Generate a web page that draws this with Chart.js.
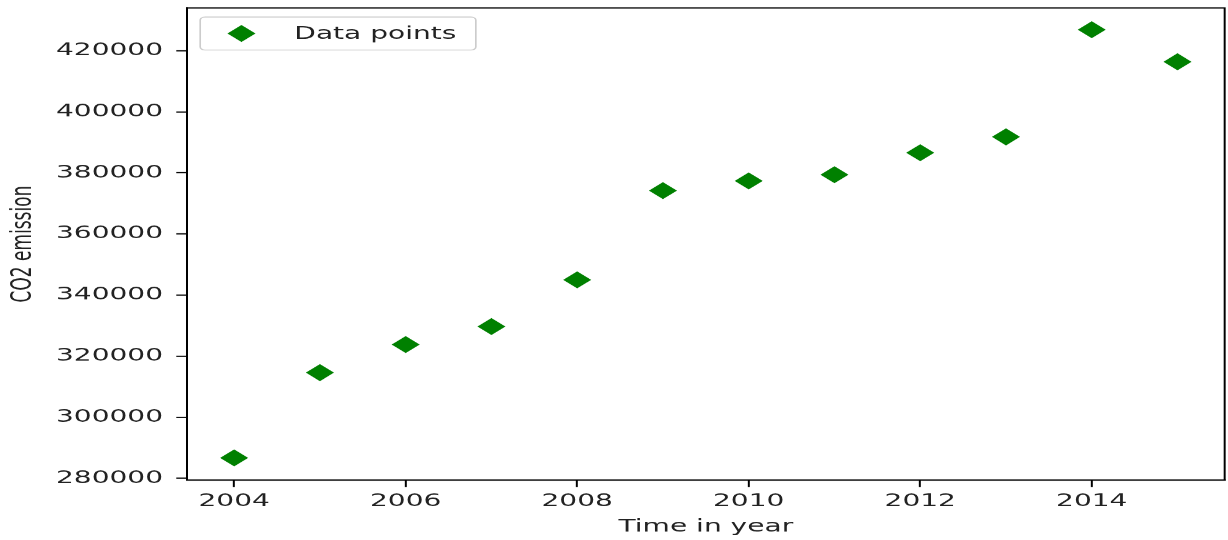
<!DOCTYPE html>
<html>
<head>
<meta charset="utf-8">
<script src="https://cdn.jsdelivr.net/npm/chart.js@4"></script>
<style>
  html, body { margin: 0; padding: 0; background: #fff; overflow: hidden; }
  /* the reference is a horizontally stretched figure: draw narrow, then stretch */
  #wrap { width: 744px; height: 540px; transform: scaleX(1.6505); transform-origin: 0 0; }
</style>
</head>
<body>
<div id="wrap"><canvas id="chart"></canvas></div>
<script>
// Données
const years = [2004, 2005, 2006, 2007, 2008, 2009, 2010, 2011, 2012, 2013, 2014, 2015];
const emissions = [286700, 314600, 323800, 329700, 345000, 374200, 377400, 379400, 386600, 391800, 426900, 416400];
const xTicks = [2004, 2006, 2008, 2010, 2012, 2014];
const yTicks = [280000, 300000, 320000, 340000, 360000, 380000, 400000, 420000];
const seriesLabel = 'Data points';

const FONT = 'DejaVu Sans';
const TEXT = '#222';
const GREEN = '#008000';

// Cadre noir autour de la zone de tracé
const framePlugin = {
    id: 'frame',
    afterDraw(chart) {
        const a = chart.chartArea;
        const ctx = chart.ctx;
        ctx.save();
        ctx.strokeStyle = '#000';
        ctx.lineWidth = 1.2;
        ctx.strokeRect(a.left, a.top, a.right - a.left, a.bottom - a.top);
        ctx.restore();
    }
};

// Légende dans le coin haut gauche, style matplotlib
const legendPlugin = {
    id: 'innerLegend',
    afterDraw(chart) {
        const a = chart.chartArea;
        const ctx = chart.ctx;
        const x = a.left + 8, y = a.top + 9, w = 167, h = 33;
        ctx.save();
        ctx.beginPath();
        ctx.roundRect(x, y, w, h, 3);
        ctx.fillStyle = 'rgba(255,255,255,0.8)';
        ctx.fill();
        ctx.strokeStyle = '#cccccc';
        ctx.lineWidth = 1;
        ctx.stroke();

        const cx = x + 25, cy = y + h / 2, r = 8.5;
        ctx.beginPath();
        ctx.moveTo(cx - r, cy);
        ctx.lineTo(cx, cy - r);
        ctx.lineTo(cx + r, cy);
        ctx.lineTo(cx, cy + r);
        ctx.closePath();
        ctx.fillStyle = GREEN;
        ctx.fill();

        ctx.fillStyle = TEXT;
        ctx.font = '17px "' + FONT + '"';
        ctx.textBaseline = 'middle';
        ctx.fillText(chart.data.datasets[0].label, x + 57, cy + 1);
        ctx.restore();
    }
};

const points = years.map((yr, i) => ({ x: yr, y: emissions[i] }));

new Chart(document.getElementById('chart'), {
    type: 'scatter',
    data: {
        datasets: [{
            label: seriesLabel,
            data: points,
            pointStyle: 'rectRot',
            pointRadius: 8.5,
            pointHoverRadius: 8.5,
            pointBorderWidth: 0,
            backgroundColor: GREEN,
            borderColor: GREEN
        }]
    },
    options: {
        responsive: true,
        maintainAspectRatio: false,
        animation: false,
        devicePixelRatio: 1.6505,
        layout: { autoPadding: false, padding: { top: 8, right: 2, left: 0, bottom: 0 } },
        plugins: {
            legend: { display: false },
            tooltip: { enabled: false }
        },
        scales: {
            x: {
                type: 'linear',
                position: 'bottom',
                min: 2003.45,
                max: 2015.55,
                afterBuildTicks: axis => { axis.ticks = xTicks.map(v => ({ value: v })); },
                afterFit: axis => {
                    axis.height = 60;
                    axis.paddingLeft = 0;
                    axis.paddingRight = 0;
                },
                ticks: {
                    autoSkip: false,
                    maxRotation: 0,
                    padding: 4,
                    color: TEXT,
                    font: { family: FONT, size: 17 },
                    callback: v => String(v)
                },
                grid: {
                    drawOnChartArea: false,
                    tickLength: 7,
                    tickColor: '#000',
                    tickWidth: 1.2
                },
                border: { color: '#000', width: 1.2 },
                title: {
                    display: true,
                    text: 'Time in year',
                    color: TEXT,
                    font: { family: FONT, size: 17 },
                    padding: { top: 0, bottom: 3 }
                }
            },
            y: {
                type: 'linear',
                min: 279400,
                max: 434000,
                afterBuildTicks: axis => { axis.ticks = yTicks.map(v => ({ value: v })); },
                afterFit: axis => {
                    axis.width = 113.3;
                    axis.paddingTop = 0;
                    axis.paddingBottom = 0;
                },
                ticks: {
                    padding: 8,
                    color: TEXT,
                    font: { family: FONT, size: 17 },
                    callback: v => String(v)
                },
                grid: {
                    drawOnChartArea: false,
                    tickLength: 6.5,
                    tickColor: '#000',
                    tickWidth: 1.2
                },
                border: { color: '#000', width: 1.2 },
                title: {
                    display: true,
                    text: 'CO2 emission',
                    color: TEXT,
                    font: { family: FONT, size: 17 },
                    padding: { top: 4, bottom: 0 }
                }
            }
        }
    },
    plugins: [framePlugin, legendPlugin]
});
</script>
</body>
</html>
